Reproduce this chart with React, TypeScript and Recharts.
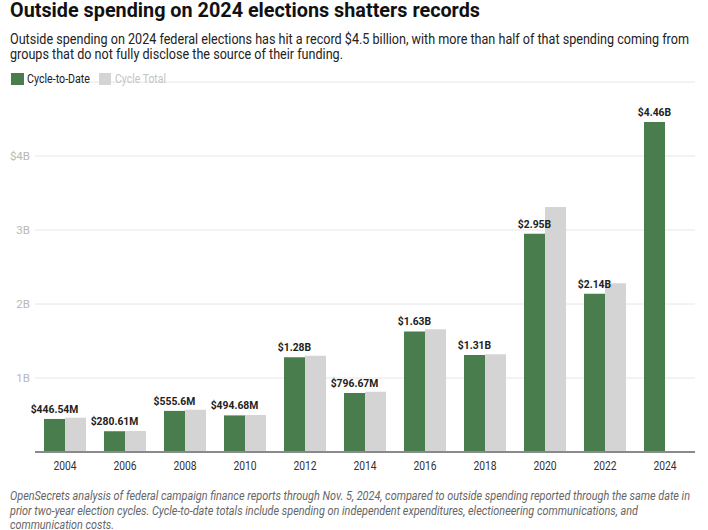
import React from "react";
import { BarChart, Bar, XAxis, YAxis, CartesianGrid, LabelList } from "recharts";

const years = ["2004", "2006", "2008", "2010", "2012", "2014", "2016", "2018", "2020", "2022", "2024"];
const cycleToDate = [0.44654, 0.28061, 0.5556, 0.49468, 1.28, 0.79667, 1.63, 1.31, 2.95, 2.14, 4.46];
const cycleTotal = [0.464, 0.284, 0.572, 0.5, 1.3, 0.815, 1.66, 1.32, 3.31, 2.28, null];
const valueLabels = ["$446.54M", "$280.61M", "$555.6M", "$494.68M", "$1.28B", "$796.67M", "$1.63B", "$1.31B", "$2.95B", "$2.14B", "$4.46B"];
const yTicks = [1, 2, 3, 4];
const yTickLabels: Record<number, string> = { 1: "1B", 2: "2B", 3: "3B", 4: "$4B" };

const title = "Outside spending on 2024 elections shatters records";
const subtitleLines = [
  "Outside spending on 2024 federal elections has hit a record $4.5 billion, with more than half of that spending coming from",
  "groups that do not fully disclose the source of their funding.",
];
const footnoteLines = [
  "OpenSecrets analysis of federal campaign finance reports through Nov. 5, 2024, compared to outside spending reported through the same date in",
  "prior two-year election cycles. Cycle-to-date totals include spending on independent expenditures, electioneering communications, and",
  "communication costs.",
];
const legendNames = ["Cycle-to-Date", "Cycle Total"];

const data = years.map((y, i) => ({
  year: y,
  toDate: cycleToDate[i],
  total: cycleTotal[i],
  label: valueLabels[i],
}));

const GREEN = "#4a7d4e";
const GRAY = "#d4d4d4";
const FONT = "Roboto, sans-serif";

let ctx: CanvasRenderingContext2D | null = null;
function measure(text: string, font: string): number {
  if (!ctx && typeof document !== "undefined") {
    ctx = document.createElement("canvas").getContext("2d");
  }
  if (!ctx) return text.length * 6;
  ctx.font = font;
  return ctx.measureText(text).width;
}

const XTick = (props: any) => {
  const { x, y, payload } = props;
  const t = String(payload.value);
  const len = measure(t, "12px Roboto") * 0.86;
  return (
    <text x={x} y={y + 10} textAnchor="middle" fill="#333" fontSize={12} fontFamily={FONT} textLength={len} lengthAdjust="spacingAndGlyphs">
      {t}
    </text>
  );
};

const BarLabel = (props: any) => {
  const { x, y, width, value } = props;
  if (value == null) return null;
  const t = String(value);
  const len = measure(t, "bold 11.5px Roboto") * 0.9;
  return (
    <text x={x + width / 2} y={y - 6} textAnchor="middle" fill="#222" fontSize={11.5} fontWeight={700} fontFamily={FONT} textLength={len} lengthAdjust="spacingAndGlyphs">
      {t}
    </text>
  );
};

export default function App() {
  return (
    <div style={{ position: "absolute", left: 0, top: 0, width: 708, height: 530, background: "#fff", overflow: "hidden" }}>
      <div style={{ position: "absolute", left: 0, top: 0 }}>
        <BarChart
          width={708}
          height={500}
          data={data}
          margin={{ top: 82, right: 13, left: 0, bottom: 28 }}
          barCategoryGap="15%"
          barGap={0}
        >
          <CartesianGrid vertical={false} stroke="#e6e6e6" strokeWidth={1} />
          <YAxis
            type="number"
            domain={[0, 5]}
            ticks={yTicks}
            width={35}
            axisLine={false}
            tickLine={false}
            tickSize={5}
            tickMargin={0}
            tickFormatter={(v: number) => yTickLabels[v] ?? ""}
            tick={{ fill: "#b8b8b8", fontSize: 11.5, fontFamily: FONT }}
          />
          <XAxis
            dataKey="year"
            height={20}
            tickLine={false}
            axisLine={{ stroke: "#8a8a8a", strokeWidth: 2 }}
            tick={<XTick />}
          />
          <Bar dataKey="toDate" fill={GREEN} isAnimationActive={false}>
            <LabelList dataKey="label" content={<BarLabel />} />
          </Bar>
          <Bar dataKey="total" fill={GRAY} isAnimationActive={false} />
        </BarChart>
      </div>
      <svg width={708} height={530} style={{ position: "absolute", left: 0, top: 0, pointerEvents: "none" }}>
        <text x={10} y={17} fontFamily={FONT} fontWeight={700} fontSize={19.5} fill="#111" textLength={470} lengthAdjust="spacingAndGlyphs">
          {title}
        </text>
        <text x={10} y={43.5} fontFamily={FONT} fontSize={14} fill="#222" textLength={679} lengthAdjust="spacingAndGlyphs">
          {subtitleLines[0]}
        </text>
        <text x={10} y={58.5} fontFamily={FONT} fontSize={14} fill="#222" textLength={333} lengthAdjust="spacingAndGlyphs">
          {subtitleLines[1]}
        </text>
        <rect x={11} y={73} width={13} height={12} fill={GREEN} />
        <text x={27} y={82.5} fontFamily={FONT} fontSize={12} fill="#222" textLength={63} lengthAdjust="spacingAndGlyphs">
          {legendNames[0]}
        </text>
        <rect x={99} y={73} width={12} height={12} fill={GRAY} />
        <text x={115} y={82.5} fontFamily={FONT} fontSize={12} fill="#c4c4c4" textLength={51} lengthAdjust="spacingAndGlyphs">
          {legendNames[1]}
        </text>
        <text x={10} y={500} fontFamily={FONT} fontStyle="italic" fontSize={12} fill="#666" textLength={680} lengthAdjust="spacingAndGlyphs">
          {footnoteLines[0]}
        </text>
        <text x={10} y={514.5} fontFamily={FONT} fontStyle="italic" fontSize={12} fill="#666" textLength={628} lengthAdjust="spacingAndGlyphs">
          {footnoteLines[1]}
        </text>
        <text x={10} y={528.5} fontFamily={FONT} fontStyle="italic" fontSize={12} fill="#666" textLength={104} lengthAdjust="spacingAndGlyphs">
          {footnoteLines[2]}
        </text>
      </svg>
    </div>
  );
}
